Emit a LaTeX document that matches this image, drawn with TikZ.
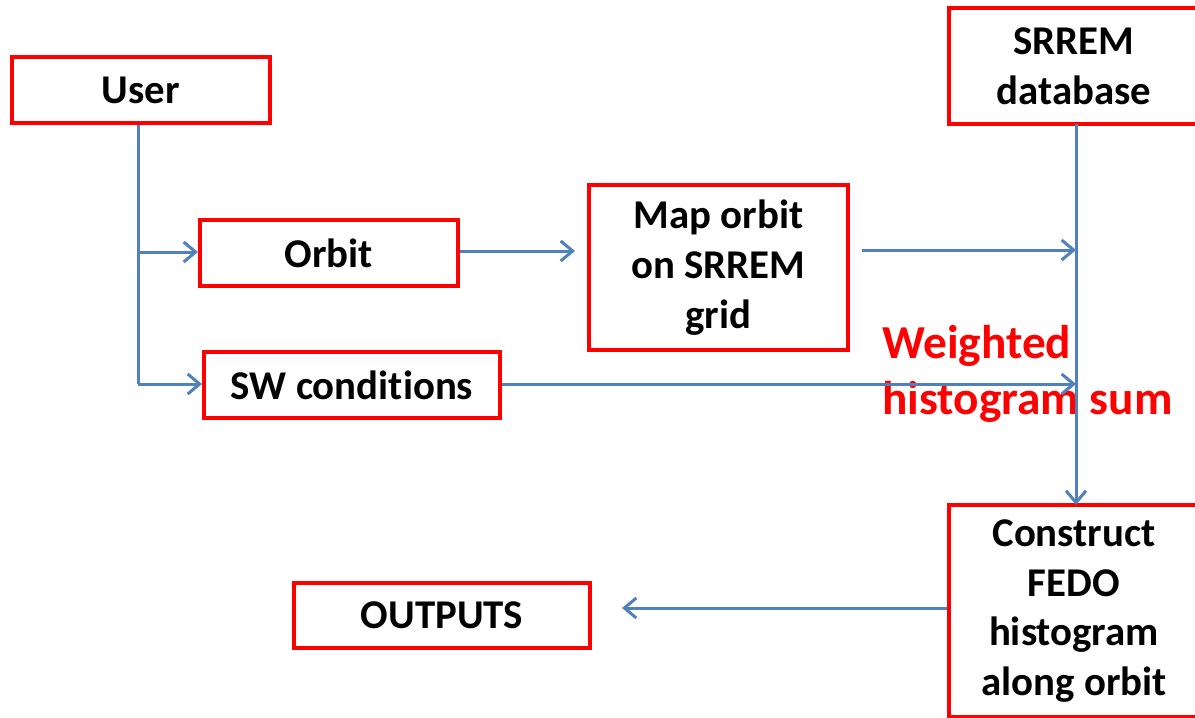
\documentclass[tikz,border=0pt]{standalone}
\usepackage{fontspec}
\setmainfont[Ligatures=NoCommon]{Carlito}
\usetikzlibrary{arrows.meta}
\definecolor{boxred}{HTML}{FF0000}
\definecolor{lineblue}{HTML}{4F81BD}
\tikzset{
  box/.style={draw=boxred, line width=4bp, rectangle, inner sep=0pt, align=center,
    font=\fontsize{41}{50}\selectfont\bfseries, text=black},
  conn/.style={draw=lineblue, line width=3bp, -{Straight Barb[length=12bp,width=20bp]}},
  plain/.style={draw=lineblue, line width=3bp},
}
\begin{document}
\begin{tikzpicture}[x=1bp,y=-1bp]
\clip (0,0) rectangle (1195,718);
\fill[white] (0,0) rectangle (1195,718);
\node[box, minimum width=258bp, minimum height=66bp] (user) at (141,90) {User};
\node[box, minimum width=258bp, minimum height=66bp] (orbit) at (329,253) {Orbit};
\node[box, minimum width=296bp, minimum height=66bp] (sw) at (352,385) {SW conditions};
\node[box, minimum width=259bp, minimum height=165bp] (map) at (718.5,267.5) {Map orbit\\on SRREM\\grid};
\node[box, minimum width=250bp, minimum height=116bp] (db) at (1074,66) {SRREM\\database};
\node[box, minimum width=250bp, minimum height=212bp] (fedo) at (1074,611) {Construct\\FEDO\\histogram\\along orbit};
\node[box, minimum width=296bp, minimum height=65bp] (out) at (442,615.5) {OUTPUTS};
\node[anchor=west, align=left, inner sep=0pt, text=boxred,
  font=\fontsize{47.5}{57}\selectfont\bfseries] (sum) at (882,374) {Weighted\\histogram sum};
\coordinate (t1) at (138,252);
\coordinate (t2) at (138,384);
\coordinate (j0) at (1076,124);
\coordinate (j1) at (1076,250);
\coordinate (j2) at (1076,384);
\coordinate (j3) at (1076,505);
% user trunk
\draw[plain] (user.south -| t1) -- (t2);
\draw[conn] (t1) -- (orbit.west |- t1);
\draw[conn] (t2) -- (sw.west |- t2);
% orbit to map
\draw[conn, shorten >=12bp] (orbit.east |- 0,251) -- (map.west |- 0,251);
% map to sum
\draw[conn, shorten <=12bp] (map.east |- j1) -- (j1);
% sw to sum
\draw[conn] (sw.east |- j2) -- (j2);
% database down to fedo
\draw[conn] (j0) -- (j3);
% fedo to outputs
\draw[conn, shorten >=30bp] (fedo.west |- 0,608) -- (out.east |- 0,608);
\end{tikzpicture}
\end{document}
